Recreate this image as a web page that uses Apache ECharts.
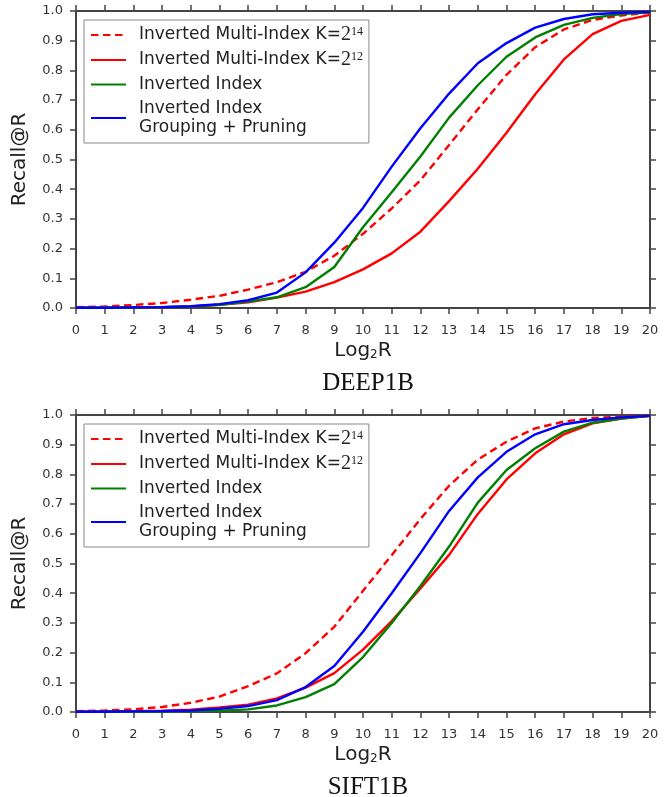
<!DOCTYPE html>
<html>
<head>
<meta charset="utf-8">
<script src="https://cdn.jsdelivr.net/npm/echarts@6/dist/echarts.min.js"></script>
<style>
  html, body { margin: 0; padding: 0; background: #fff; }
  #main { width: 666px; height: 797px; }
</style>
</head>
<body>
<div id="main"></div>
<script>
// log2 R, 0..20
var logR = [0,1,2,3,4,5,6,7,8,9,10,11,12,13,14,15,16,17,18,19,20];
var seriesNames = ['Inverted Multi-Index K=2^14', 'Inverted Multi-Index K=2^12', 'Inverted Index', 'Inverted Index\nGrouping + Pruning'];

// DEEP1B
var deepMI14 = [0.003,0.005,0.01,0.017,0.028,0.041,0.062,0.087,0.122,0.176,0.25,0.335,0.43,0.549,0.669,0.785,0.878,0.938,0.97,0.985,0.995];
var deepMI12 = [0.001,0.001,0.002,0.003,0.005,0.011,0.019,0.035,0.055,0.087,0.13,0.184,0.257,0.36,0.469,0.59,0.72,0.837,0.922,0.967,0.987];
var deepII   = [0.001,0.001,0.002,0.003,0.005,0.011,0.022,0.036,0.07,0.138,0.272,0.39,0.51,0.641,0.75,0.846,0.911,0.953,0.977,0.99,0.996];
var deepGP   = [0.001,0.001,0.002,0.003,0.006,0.013,0.026,0.052,0.12,0.22,0.337,0.476,0.605,0.722,0.824,0.892,0.944,0.973,0.989,0.994,0.997];

// SIFT1B
var siftMI14 = [0.003,0.005,0.009,0.017,0.031,0.052,0.087,0.13,0.198,0.287,0.408,0.528,0.65,0.762,0.85,0.91,0.955,0.978,0.99,0.994,0.997];
var siftMI12 = [0.001,0.002,0.003,0.004,0.008,0.015,0.025,0.046,0.082,0.131,0.21,0.306,0.416,0.529,0.667,0.783,0.871,0.935,0.972,0.988,0.997];
var siftII   = [0,0.001,0.001,0.002,0.003,0.004,0.009,0.022,0.05,0.094,0.185,0.3,0.424,0.557,0.705,0.815,0.888,0.944,0.974,0.988,0.997];
var siftGP   = [0.001,0.001,0.002,0.003,0.005,0.011,0.02,0.04,0.084,0.155,0.27,0.4,0.535,0.677,0.79,0.876,0.935,0.969,0.983,0.992,0.997];

var colors = ['#ff0000', '#ff0000', '#008000', '#0000ff'];
var axisColor = '#444';
var font = 'DejaVu Sans';

function pairs(ys) {
  return logR.map(function (x, i) { return [x, ys[i]]; });
}

function xAx(grid, pos) {
  var main = pos === 'bottom';
  return {
    type: 'value', gridIndex: grid, position: pos,
    min: 0, max: 20, interval: 1,
    name: main ? 'Log{sub|2}R' : '',
    nameLocation: 'middle', nameGap: 33,
    nameTextStyle: {
      fontFamily: font, fontSize: 20, color: '#222',
      rich: { sub: { fontFamily: font, fontSize: 12, color: '#222', verticalAlign: 'bottom', padding: [8, 0, 0, 0] } }
    },
    axisLine: { show: true, onZero: false, lineStyle: { color: axisColor, width: 2 } },
    axisTick: { show: true, inside: false, length: 6, lineStyle: { color: axisColor, width: 1.5 } },
    axisLabel: { show: main, margin: 16, fontFamily: font, fontSize: 13, color: '#333' },
    splitLine: { show: false }
  };
}

function yAx(grid, pos) {
  var main = pos === 'left';
  return {
    type: 'value', gridIndex: grid, position: pos,
    min: 0, max: 1, interval: 0.1,
    name: main ? 'Recall@R' : '',
    nameLocation: 'middle', nameGap: 46,
    nameTextStyle: { fontFamily: font, fontSize: 20, color: '#222' },
    axisLine: { show: true, onZero: false, lineStyle: { color: axisColor, width: 2 } },
    axisTick: { show: true, inside: false, length: 6, lineStyle: { color: axisColor, width: 1.5 } },
    axisLabel: {
      show: main, margin: 13, fontFamily: font, fontSize: 13, color: '#333',
      formatter: function (v) { return v.toFixed(1); }
    },
    splitLine: { show: false }
  };
}

function legendFor(top) {
  return {
    orient: 'vertical', left: 84, top: top,
    data: seriesNames,
    itemWidth: 35, itemHeight: 14, itemGap: 5,
    padding: [5, 6, 6, 6],
    backgroundColor: '#fff',
    borderColor: '#888', borderWidth: 1, borderRadius: 0,
    itemStyle: { opacity: 0 },
    textStyle: {
      fontFamily: font, fontSize: 17, color: '#222', lineHeight: 19,
      padding: [0, 0, 0, 8],
      rich: {
        m: { fontFamily: 'Liberation Serif', fontSize: 20, color: '#222', lineHeight: 19 },
        s: { fontFamily: 'Liberation Serif', fontSize: 12, color: '#222', verticalAlign: 'top', lineHeight: 19, padding: [0, 0, 6, 0] }
      }
    },
    formatter: function (name) {
      var m = name.match(/^(.*K=)2\^(\d+)$/);
      if (m) return m[1] + '{m|2}{s|' + m[2] + '}';
      return name;
    }
  };
}

function lines(xi, yi, sets) {
  return sets.map(function (ys, k) {
    return {
      name: seriesNames[k], type: 'line', xAxisIndex: xi, yAxisIndex: yi,
      data: pairs(ys), symbol: 'none', smooth: false,
      lineStyle: { color: colors[k], width: 2.4, type: k === 0 ? [7.5, 4.5] : 'solid' },
      itemStyle: { color: colors[k] }
    };
  });
}

var chart = echarts.init(document.getElementById('main'), null, { renderer: 'canvas' });
chart.setOption({
  animation: false,
  backgroundColor: '#fff',
  title: [
    { text: 'DEEP1B', left: 363, top: 366, textAlign: 'center',
      textStyle: { fontFamily: 'Liberation Serif', fontSize: 25, fontWeight: 'normal', color: '#111' } },
    { text: 'SIFT1B', left: 363, top: 770, textAlign: 'center',
      textStyle: { fontFamily: 'Liberation Serif', fontSize: 25, fontWeight: 'normal', color: '#111' } }
  ],
  grid: [
    { left: 76, top: 11, width: 574, height: 297 },
    { left: 76, top: 415, width: 574, height: 297 }
  ],
  legend: [legendFor(20), legendFor(424)],
  xAxis: [xAx(0, 'bottom'), xAx(0, 'top'), xAx(1, 'bottom'), xAx(1, 'top')],
  yAxis: [yAx(0, 'left'), yAx(0, 'right'), yAx(1, 'left'), yAx(1, 'right')],
  series: lines(0, 0, [deepMI14, deepMI12, deepII, deepGP])
    .concat(lines(2, 2, [siftMI14, siftMI12, siftII, siftGP]))
});
</script>
</body>
</html>
